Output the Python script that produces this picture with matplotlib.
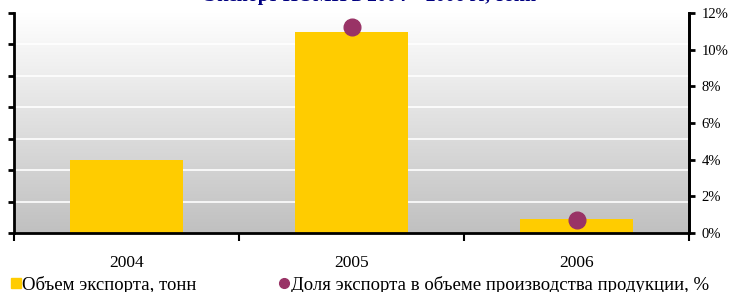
import matplotlib
matplotlib.use("Agg")
import matplotlib.pyplot as plt
import numpy as np
from matplotlib.lines import Line2D
from matplotlib.colors import LinearSegmentedColormap

# ---- data ----
years = ["2004", "2005", "2006"]
export_tonnes = [23.2, 63.8, 4.6]          # left axis (unlabelled scale)
export_share = [np.nan, 0.1122, 0.0072]    # right axis, fraction
share_ticks = [0, 0.02, 0.04, 0.06, 0.08, 0.10, 0.12]
share_labels = ["0%", "2%", "4%", "6%", "8%", "10%", "12%"]
left_ticks = [0, 10, 20, 30, 40, 50, 60, 70]
legend_labels = ["Объем экспорта, тонн", "Доля экспорта в объеме производства продукции, %"]
title_text = "Экспорт ПОМП в 2004 – 2006 гг, тонн"

BAR = "#FFCC00"
DOT = "#993366"
SERIF = ["Liberation Serif", "DejaVu Serif"]

W, H = 732, 292
fig = plt.figure(figsize=(W / 100, H / 100), dpi=100)
plt.rcParams["font.family"] = SERIF

x0, x1 = 14, 689
ytop, ybot = 13, 233
ax = fig.add_axes([x0 / W, (H - ybot) / H, (x1 - x0) / W, (ybot - ytop) / H])
ax.set_facecolor("none")

# gradient background
cmap = LinearSegmentedColormap.from_list("g", ["#c0c0c0", "#ffffff"])
ax.imshow(np.linspace(0, 1, 256).reshape(-1, 1)[::-1],
          cmap=cmap, aspect="auto", extent=[-0.5, 2.5, 0, 70], zorder=0,
          vmin=0, vmax=1)

xpos = np.arange(len(years))
ax.set_xlim(-0.5, 2.5)
ax.set_ylim(0, 70)
for yv in left_ticks[1:-1]:
    ax.axhline(yv, color="white", lw=1.2, zorder=1)
ax.bar(xpos, export_tonnes, width=0.5, color=BAR, zorder=2)

ax.set_yticks(left_ticks)
ax.set_yticklabels([])
ax.tick_params(axis="y", direction="out", length=4, width=2, color="black")
ax.set_xticks(xpos)
ax.set_xticklabels(years, fontsize=12.5)
ax.tick_params(axis="x", which="major", length=0, pad=15.5)
ax.set_xticks([-0.5, 0.5, 1.5, 2.5], minor=True)
ax.tick_params(axis="x", which="minor", length=6, width=1.5, direction="out")
for s in ["left", "right", "bottom"]:
    ax.spines[s].set_linewidth(2)
ax.spines["top"].set_visible(False)

ax2 = ax.twinx()
ax2.set_ylim(0, 0.12)
ax2.plot(xpos, export_share, linestyle="none", marker="o", markersize=12,
         color=DOT, markeredgecolor=DOT, zorder=5)
ax2.set_yticks(share_ticks)
ax2.set_yticklabels(share_labels, fontsize=10.5)
ax2.tick_params(axis="y", direction="out", length=4, width=2, pad=5)
ax2.spines["top"].set_visible(False)
ax2.spines["left"].set_visible(False)
ax2.spines["right"].set_linewidth(2)
ax2.spines["bottom"].set_visible(False)

handles = [
    Line2D([], [], linestyle="none", marker="s", markersize=6.5, color=BAR),
    Line2D([], [], linestyle="none", marker="o", markersize=7, color=DOT),
]
fig.legend(handles, legend_labels, loc="lower left", bbox_to_anchor=(0.0, -0.045),
           ncol=2, frameon=False, fontsize=13.5, handlelength=0.5,
           handletextpad=0.1, columnspacing=4.4, borderaxespad=0.2)

fig.text(370 / W, 1 - 1.2 / H, title_text, ha="center", va="baseline",
         fontsize=14, fontweight="bold", color="#000080")

fig.savefig("out.png", dpi=100)
